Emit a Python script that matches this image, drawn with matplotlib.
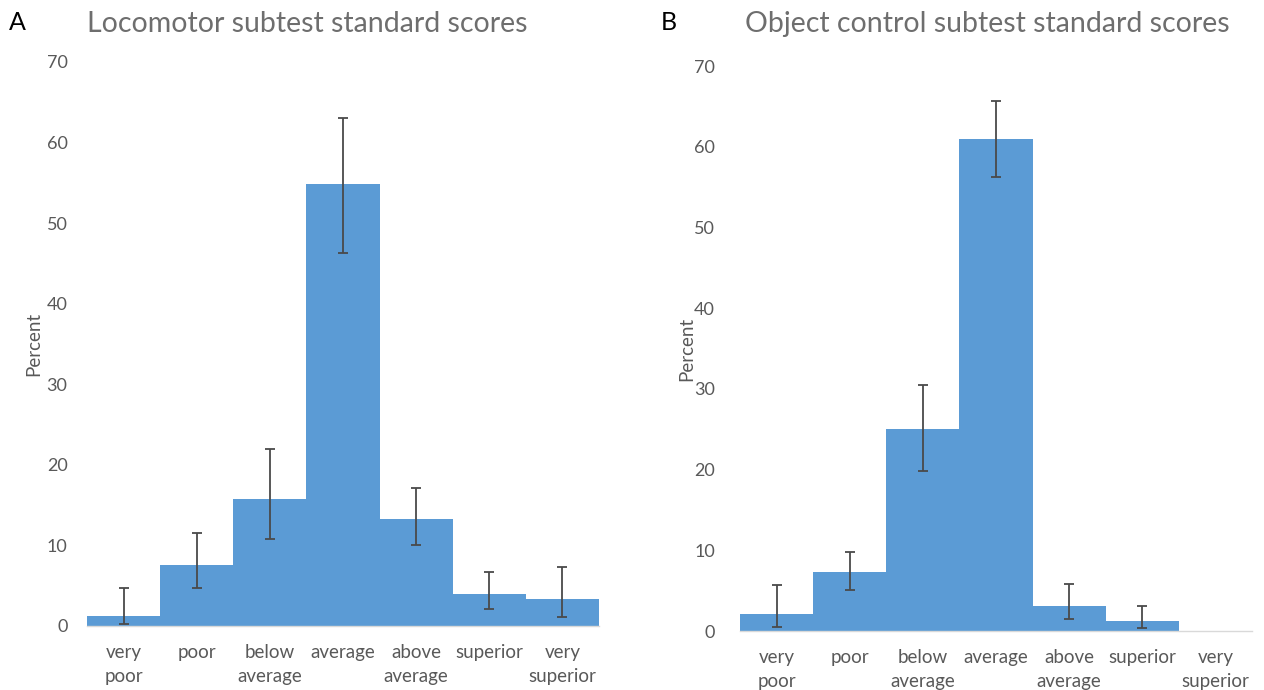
import matplotlib
matplotlib.use('Agg')
import matplotlib.pyplot as plt
import numpy as np

plt.rcParams.update({
    'font.family': ['Lato', 'DejaVu Sans'],
    'font.size': 13,
})

categories = ['very\npoor', 'poor', 'below\naverage', 'average',
              'above\naverage', 'superior', 'very\nsuperior']

# locomotor subtest (panel A)
loco_pct   = [1.2, 7.6, 15.8, 54.8, 13.3, 4.0, 3.3]
loco_upper = [4.7, 11.6, 22.0, 63.1, 17.1, 6.7, 7.3]
loco_lower = [0.2, 4.7, 10.8, 46.3, 10.0, 2.1, 1.1]

# object control subtest (panel B)
obj_pct   = [2.1, 7.3, 25.0, 61.0, 3.1, 1.3, 0.0]
obj_upper = [5.7, 9.8, 30.5, 65.7, 5.8, 3.1, None]
obj_lower = [0.5, 5.1, 19.8, 56.2, 1.5, 0.4, None]

BLUE = '#5B9BD5'
GRAY = '#595959'
TITLE_GRAY = '#6e6e6e'
ERR  = '#4a4a4a'

fig = plt.figure(figsize=(12.64, 6.9), dpi=100)
axA = fig.add_axes([0.0688, 0.0928, 0.4051, 0.8174])
axB = fig.add_axes([0.5854, 0.0855, 0.4051, 0.8188])


def draw(ax, pct, upper, lower, title, title_x, letter, letter_x, pad):
    x = np.arange(len(categories))
    ax.bar(x, pct, width=1.0, color=BLUE, edgecolor='none', zorder=2)
    idx = [i for i in x if upper[i] is not None]
    vals = np.array([pct[i] for i in idx])
    up = np.array([upper[i] for i in idx]) - vals
    lo = vals - np.array([lower[i] for i in idx])
    ax.errorbar(idx, vals, yerr=[lo, up], fmt='none', ecolor=ERR,
                elinewidth=1.3, capsize=3.5, capthick=1.3, zorder=3)
    ax.set_xlim(-0.5, len(categories) - 0.5)
    ax.set_ylim(0, 70)
    ax.set_yticks(range(0, 71, 10))
    ax.set_xticks(x)
    ax.set_xticklabels(categories, color=GRAY, linespacing=1.5,
                       fontsize=13.5)
    ax.tick_params(axis='x', length=0, pad=13)
    ax.tick_params(axis='y', length=0, pad=pad, labelcolor=GRAY)
    for s in ['top', 'right', 'left']:
        ax.spines[s].set_visible(False)
    ax.spines['bottom'].set_color('#D9D9D9')
    ax.spines['bottom'].set_linewidth(1.0)
    ax.set_ylabel('Percent', color=GRAY, fontsize=13.5)
    ax.yaxis.set_label_coords(-0.088, 0.5)
    fig.text(title_x, 0.965, title, color=TITLE_GRAY, fontsize=20.5,
             ha='center', va='center')
    fig.text(letter_x, 0.968, letter, fontsize=18, color='black',
             ha='left', va='center')


draw(axA, loco_pct, loco_upper, loco_lower,
     'Locomotor subtest standard scores', 0.243, 'A', 0.007, 14)
draw(axB, obj_pct, obj_upper, obj_lower,
     'Object control subtest standard scores', 0.781, 'B', 0.523, 18)

plt.savefig('out.png', dpi=100, facecolor='white')
